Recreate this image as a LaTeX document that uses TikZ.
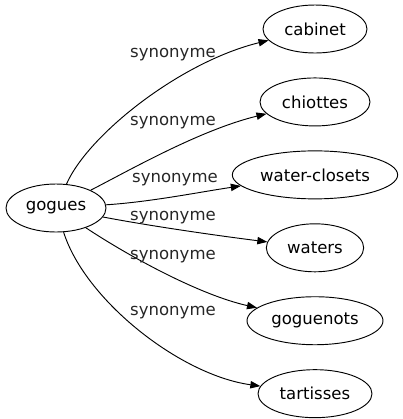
\documentclass[tikz,border=0pt]{standalone}
\usepackage{fontspec}
\setmainfont{DejaVu Sans}
\usepackage{tikz}
\usetikzlibrary{shapes.geometric, arrows.meta, positioning}

\begin{document}
\begin{tikzpicture}[x=0.75pt, y=-0.75pt, node distance=18pt, >={Triangle[length=7.5pt,width=5.5pt]}, font=\fontsize{12.4}{15}\selectfont]
    \tikzstyle{word} = [ellipse, draw, line width=0.7pt, inner sep=0pt, minimum height=36pt]
    \tikzstyle{lbl} = [inner sep=0pt, text=black!85]
    \tikzstyle{line} = [draw, ->, line width=0.7pt]

    \useasboundingbox (0,0) rectangle (403,419);

    \node [word, minimum width=75pt] (gogues) at (56,208) {gogues};
    \node [word, minimum width=78pt] (cabinet) at (315,29) {cabinet};
    \node [word, minimum width=82.5pt, below=of cabinet] (chiottes) {chiottes};
    \node [word, minimum width=124pt, below=of chiottes] (wc) {water-closets};
    \node [word, minimum width=73pt, below=of wc] (waters) {waters};
    \node [word, minimum width=102pt, below=of waters] (goguenots) {goguenots};
    \node [word, minimum width=85.5pt, below=of goguenots] (tartisses) {tartisses};

    \path [line] (gogues) .. controls (88,135) and (180,62) .. (cabinet);
    \path [line] (gogues) .. controls (130,170) and (200,130) .. (chiottes);
    \path [line] (gogues) .. controls (150,202) and (200,192) .. (wc);
    \path [line] (gogues) .. controls (150,226) and (220,236) .. (waters);
    \path [line] (gogues) .. controls (130,257) and (200,295) .. (goguenots);
    \path [line] (gogues) .. controls (85,300) and (180,375) .. (tartisses);

    \node [lbl] (s1) at (173,55) {synonyme};
    \node [lbl] (s2) at (173,123) {synonyme};
    \node [lbl] (s3) at (175,180) {synonyme};
    \node [lbl] (s4) at (173,218) {synonyme};
    \node [lbl] (s5) at (173,257) {synonyme};
    \node [lbl] (s6) at (173,313) {synonyme};
\end{tikzpicture}
\end{document}
